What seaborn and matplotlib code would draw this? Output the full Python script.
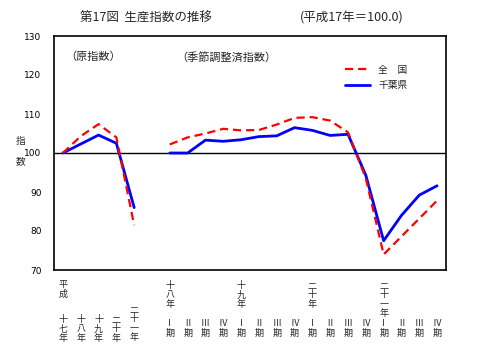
import numpy as np
import pandas as pd
import matplotlib
matplotlib.use("Agg")
import matplotlib.pyplot as plt
import matplotlib.transforms as mtransforms
from matplotlib.lines import Line2D
import seaborn as sns

# ---- data ----
annual_x = [0, 1, 2, 3, 4]
annual_labels = ["十\n七\n年", "十\n八\n年", "十\n九\n年", "二\n十\n年", "二\n十\n一\n年"]
annual_zenkoku = [100.0, 104.3, 107.4, 104.0, 81.5]
annual_chiba = [100.0, 102.3, 104.6, 102.5, 86.0]

quarter_x = list(range(6, 22))
quarter_labels = ["Ⅰ\n期", "Ⅱ\n期", "Ⅲ\n期", "Ⅳ\n期"] * 4
quarter_years = {6: "十\n八\n年", 10: "十\n九\n年", 14: "二\n十\n年", 18: "二\n十\n一\n年"}
quarter_zenkoku = [102.2, 104.0, 105.0, 106.2, 105.8, 105.9, 107.3, 109.0,
                   109.2, 108.3, 105.3, 93.5, 74.0, 78.6, 83.2, 87.8]
quarter_chiba = [100.0, 100.0, 103.3, 103.0, 103.4, 104.2, 104.4, 106.5,
                 105.8, 104.5, 104.8, 94.3, 77.5, 84.0, 89.2, 91.6]

series_names = ["全　国", "千葉県"]
colors = {"全　国": "#ff0000", "千葉県": "#0000ff"}

rows = []
for seg, xs, z, c in [("annual", annual_x, annual_zenkoku, annual_chiba),
                      ("quarter", quarter_x, quarter_zenkoku, quarter_chiba)]:
    for x, vz, vc in zip(xs, z, c):
        rows.append(dict(x=x, value=vz, region="全　国", seg=seg))
        rows.append(dict(x=x, value=vc, region="千葉県", seg=seg))
df = pd.DataFrame(rows)

sns.set_style("white")
plt.rcParams["font.family"] = ["Noto Sans CJK JP", "DejaVu Sans"]

W, H = 480, 346
fig = plt.figure(figsize=(W / 100, H / 100), dpi=100)
ax = fig.add_axes([54 / W, (H - 270) / H, 392 / W, 234 / H])

dash = (0, (3.7, 2.2))
for region, ls, lw in [("千葉県", "-", 2.0), ("全　国", dash, 1.6)]:
    for seg in ["annual", "quarter"]:
        d = df[(df.region == region) & (df.seg == seg)]
        sns.lineplot(data=d, x="x", y="value", ax=ax, color=colors[region],
                     linewidth=lw, linestyle=ls, estimator=None, legend=False,
                     zorder=3 if region == "全　国" else 2)

ax.axhline(100, color="black", linewidth=1.0, zorder=1)

ax.set_xlim(-0.5, 21.5)
ax.set_ylim(70, 130)
ax.set_yticks(range(70, 131, 10))
ax.set_yticklabels([str(v) for v in range(70, 131, 10)], fontsize=6.5, family="DejaVu Sans")
ax.set_xticks(annual_x + [5] + quarter_x)
ax.set_xticklabels([])
ax.tick_params(axis="both", direction="in", length=4, width=1, colors="black", pad=9)
ax.tick_params(axis="x", length=5)
ax.set_xlabel("")
ax.set_ylabel("")
for s in ax.spines.values():
    s.set_color("black")
    s.set_linewidth(1.2)
    s.set_visible(True)

# x labels
tr = mtransforms.blended_transform_factory(ax.transData, fig.transFigure)
fs = 6.5
def put(x, top_px, txt):
    ax.text(x, 1 - top_px / H, txt, transform=tr, ha="center", va="top",
            fontsize=fs, linespacing=1.05, clip_on=False)

put(0, 280, "平\n成")
for x, lab in zip(annual_x, annual_labels):
    top = 315 if lab.count("\n") == 2 else 305
    put(x, top, lab)
for x, lab in quarter_years.items():
    put(x, 281, lab)
for x, lab in zip(quarter_x, quarter_labels):
    put(x, 319, lab)

# y label
fig.text(21 / W, 1 - 151 / H, "指\n\n数", ha="center", va="center", fontsize=7, linespacing=0.95)

# annotations
fig.text(65 / W, 1 - 57 / H, "（原指数）", ha="left", va="center", fontsize=8)
fig.text(176 / W, 1 - 57 / H, "（季節調整済指数）", ha="left", va="center", fontsize=8)

# title
fig.text(80 / W, 1 - 18 / H, "第17図  生産指数の推移", ha="left", va="center", fontsize=9)
fig.text(300 / W, 1 - 18 / H, "(平成17年＝100.0)", ha="left", va="center", fontsize=9)

# legend
handles = [Line2D([], [], color="#ff0000", linestyle=dash, linewidth=1.6),
           Line2D([], [], color="#0000ff", linestyle="-", linewidth=2.0)]
leg = ax.legend(handles, series_names, loc="upper left", bbox_to_anchor=(0.72, 0.915),
                frameon=False, fontsize=7, handlelength=2.6, handletextpad=0.8,
                labelspacing=0.6)

fig.savefig("out.png", dpi=100)
